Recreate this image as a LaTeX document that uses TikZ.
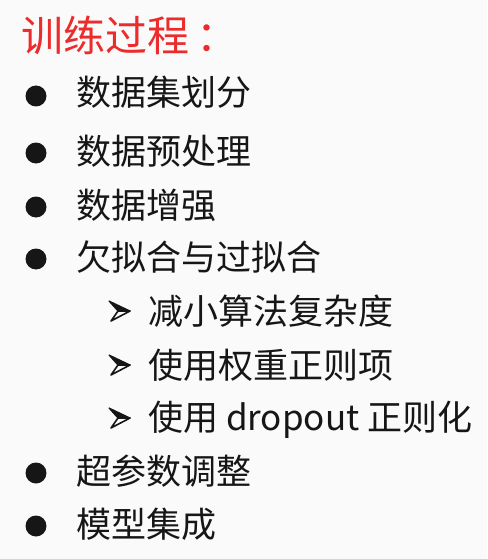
\documentclass[tikz,border=0pt]{standalone}
\usepackage{fontspec}
\newfontfamily\cjk{Noto Sans CJK SC}
\definecolor{titlered}{RGB}{236,44,44}
\definecolor{ink}{RGB}{22,22,22}
\definecolor{slide}{RGB}{250,250,250}
\begin{document}
\begin{tikzpicture}[x=1pt,y=-1pt,
    title/.style={anchor=base west,inner sep=0pt,text=titlered,font=\cjk\fontsize{42}{42}\selectfont},
    item/.style={anchor=base west,inner sep=0pt,text=ink,font=\cjk\fontsize{35}{35}\selectfont},
    dot/.style={circle,fill=ink,inner sep=0pt,minimum size=21pt},
    tipup/.style={fill=ink,draw=ink,line width=1.2pt,line join=round},
    tiplow/.style={fill=slide,draw=ink,line width=1.6pt,line join=round}]
    \fill[slide] (0,0) rectangle (487,559);
    \node[title] (title) at (21,52) {训练过程\kern7pt：};
    % main points
    \node[dot] (d1) at (36,96) {};
    \node[item] (t1) at (76,106) {数据集划分};
    \node[dot] (d2) at (36,153) {};
    \node[item] (t2) at (76,164) {数据预处理};
    \node[dot] (d3) at (36,207) {};
    \node[item] (t3) at (76,218) {数据增强};
    \node[dot] (d4) at (36,259) {};
    \node[item] (t4) at (76,270) {欠拟合与过拟合};
    % sub points
    \node[item] (s1) at (148,324) {减小算法复杂度};
    \node[item] (s2) at (148,378) {使用权重正则项};
    \node[item] (s3) at (148,430) {使用 dropout 正则化};
    \foreach \y in {311,365,418}{
        \draw[tiplow] (130,\y) -- (118,\y) -- (111,\y+10) -- cycle;
        \draw[tipup] (130,\y) -- (109,\y-10) -- (118,\y) -- cycle;
    }
    % remaining points
    \node[dot] (d5) at (36,473) {};
    \node[item] (t5) at (76,484) {超参数调整};
    \node[dot] (d6) at (36,526) {};
    \node[item] (t6) at (76,537) {模型集成};
\end{tikzpicture}
\end{document}
